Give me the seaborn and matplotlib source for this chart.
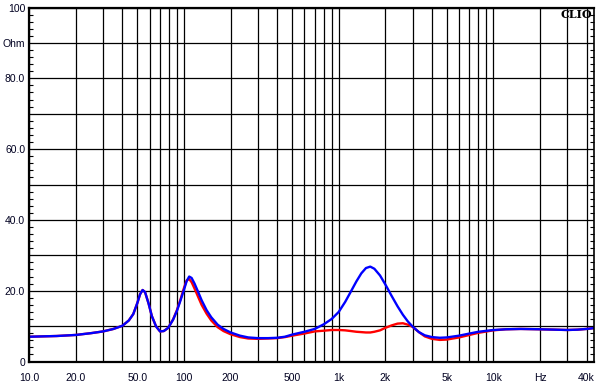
import matplotlib
matplotlib.use("Agg")
import matplotlib.pyplot as plt
import seaborn as sns
import pandas as pd
import numpy as np

freq_hz = [10, 15, 20, 25, 30, 35, 40, 44, 47, 50, 52, 54, 56, 59, 62, 66, 70, 74, 79, 85,
           90, 95, 100, 104, 108, 112, 117, 123, 130, 140, 150, 165, 180, 200, 230, 260, 300,
           350, 400, 450, 500, 600, 700, 800, 900, 1000, 1100, 1200, 1300, 1400, 1500, 1600,
           1700, 1850, 2000, 2200, 2400, 2600, 2800, 3000, 3300, 3600, 4000, 4500, 5000, 6000,
           7000, 8000, 10000, 12000, 15000, 20000, 25000, 30000, 35000, 40000, 44000]

blue_ohm = [7.0, 7.2, 7.5, 8.0, 8.5, 9.2, 10.1, 11.6, 13.4, 16.6, 19.0, 20.2, 19.6, 16.4, 12.8,
            9.9, 8.5, 8.6, 9.5, 11.8, 14.3, 17.3, 20.3, 22.7, 24.0, 23.6, 22.0, 19.8, 17.3, 14.5,
            12.5, 10.4, 9.2, 8.2, 7.3, 6.8, 6.6, 6.6, 6.7, 7.0, 7.6, 8.4, 9.2, 10.5, 12.0, 14.0,
            16.8, 19.8, 22.6, 24.9, 26.4, 26.8, 26.2, 24.3, 21.8, 18.5, 15.6, 13.2, 11.3, 9.9,
            8.3, 7.4, 6.9, 6.7, 6.8, 7.3, 7.9, 8.4, 8.9, 9.1, 9.2, 9.1, 9.0, 8.9, 9.0, 9.2, 9.4]

red_ohm = [7.0, 7.2, 7.5, 8.0, 8.5, 9.2, 10.1, 11.6, 13.4, 16.6, 19.0, 20.2, 19.6, 16.4, 12.8,
           9.9, 8.5, 8.6, 9.5, 11.9, 14.5, 17.6, 20.8, 22.9, 23.3, 22.4, 20.6, 18.4, 16.0, 13.5,
           11.6, 9.7, 8.6, 7.7, 6.9, 6.5, 6.4, 6.5, 6.6, 6.9, 7.3, 7.9, 8.5, 8.7, 8.9, 8.9,
           8.8, 8.6, 8.4, 8.3, 8.2, 8.2, 8.4, 8.8, 9.5, 10.2, 10.7, 10.8, 10.4, 9.8,
           8.3, 7.1, 6.4, 6.1, 6.2, 6.8, 7.5, 8.1, 8.8, 9.1, 9.2, 9.1, 9.0, 8.9, 9.0, 9.2, 9.4]

x_major = [10, 20, 50, 100, 200, 500, 1000, 2000, 5000, 10000, 20000, 40000]
x_labels = ["10.0", "20.0", "50.0", "100", "200", "500", "1k", "2k", "5k", "10k", "Hz", "40k"]
y_ticks = [0, 10, 20, 30, 40, 50, 60, 70, 80, 90, 100]
y_labels = ["0", "", "20.0", "", "40.0", "", "60.0", "", "80.0", "Ohm", "100"]

df = pd.DataFrame({
    "f": freq_hz * 2,
    "z": red_ohm + blue_ohm,
    "s": ["red"] * len(freq_hz) + ["blue"] * len(freq_hz),
})

W, H = 603, 385
fig = plt.figure(figsize=(W / 100, H / 100), dpi=100)
fig.patch.set_facecolor("white")
ax = fig.add_axes([29.3 / W, (H - 361.5) / H, (593.5 - 29.3) / W, (361.5 - 7.5) / H])
ax.set_xscale("log")

sns.lineplot(data=df, x="f", y="z", hue="s", palette={"red": "#FF0000", "blue": "#0000FF"},
             hue_order=["red", "blue"], linewidth=1.7, ax=ax, legend=False, sort=False)

ax.set_xlim(10, 10 ** 4.647)
ax.set_ylim(0, 100)

minor_x = []
for dec in [10, 100, 1000, 10000]:
    for m in range(2, 10):
        v = dec * m
        if v <= 40000 and v not in x_major:
            minor_x.append(v)
ax.set_xticks(x_major)
ax.set_xticklabels(x_labels)
ax.set_xticks(minor_x, minor=True)
ax.xaxis.set_minor_formatter(matplotlib.ticker.NullFormatter())
ax.tick_params(axis="x", which="both", length=0, pad=8, labelsize=7.5, labelcolor="#000020")

ax.set_yticks(y_ticks)
ax.set_yticklabels(y_labels)
ax.set_yticks(np.arange(0, 101, 2), minor=True)
ax.yaxis.set_minor_formatter(matplotlib.ticker.NullFormatter())
ax.tick_params(axis="y", which="major", length=0, pad=3, labelsize=7.5, labelcolor="#000020")
ax.tick_params(axis="y", which="minor", direction="in", length=3, width=0.8,
               left=True, right=True, color="black")

ax.grid(True, axis="x", which="both", color="black", linewidth=0.9)
ax.grid(True, axis="y", which="major", color="black", linewidth=0.9)
ax.set_axisbelow(True)

for side in ["left", "bottom", "top", "right"]:
    ax.spines[side].set_color("black")
    ax.spines[side].set_linewidth(1.6)
ax.spines["right"].set_linewidth(1.2)

ax.set_xlabel("")
ax.set_ylabel("")

for lab in ax.get_xticklabels() + ax.get_yticklabels():
    lab.set_family(["Liberation Sans", "DejaVu Sans"])

fig.text(592.5 / W, 1 - 9.5 / H, "CLIO", ha="right", va="top", fontsize=8,
         fontweight="bold", family=["DejaVu Serif"], color="black")

fig.savefig("out.png", dpi=100, facecolor="white")
